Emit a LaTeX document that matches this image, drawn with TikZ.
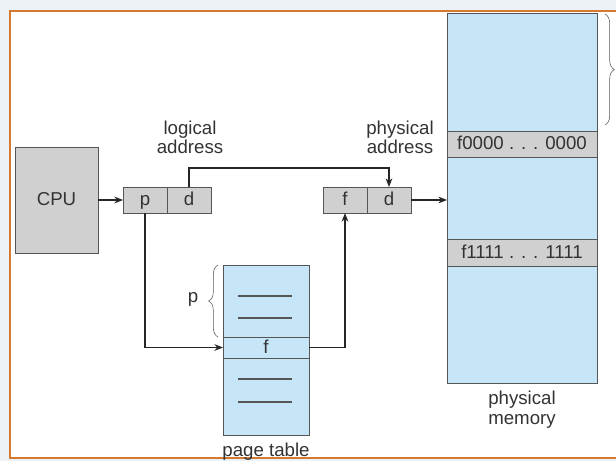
\documentclass[tikz,border=0pt]{standalone}
\usepackage{fontspec}
\setmainfont{Liberation Sans}
\usetikzlibrary{positioning, arrows.meta, decorations.pathreplacing}
\definecolor{memblue}{HTML}{C6E6F7}
\definecolor{cellgray}{HTML}{D0D0D0}
\definecolor{edgegray}{HTML}{555555}
\definecolor{framecol}{HTML}{D47A30}
\definecolor{outside}{HTML}{EDF2F7}
\definecolor{inkgray}{HTML}{333333}

\begin{document}
\begin{tikzpicture}[x=0.75pt, y=-0.75pt, >={Stealth[length=6.5pt, width=5pt]},
      font=\fontsize{14}{14.5}\selectfont, text=inkgray,
      box/.style={draw=edgegray, line width=0.7pt, inner sep=0pt, outer sep=0pt,
        minimum height=19.5pt, text height=0.86em, text depth=0pt},
      cell/.style={box, fill=cellgray, minimum width=33pt},
      mem/.style={box, fill=memblue},
      link/.style={->, line width=0.8pt, draw=black!85},
      lbl/.style={align=center, inner sep=0pt}]

    \clip (0,0) rectangle (616,461);
    \fill[outside] (0,0) rectangle (616,461);
    \draw[framecol, line width=2.2pt, fill=white] (10,11) rectangle (640,458);

    \node[box, fill=cellgray, minimum width=62.25pt, minimum height=79.5pt] (cpu) at (56.5,200) {CPU};
    \node[cell] (lp) at (145,200) {p};
    \node[cell, right=0pt of lp] (ld) {d};
    \node[cell] (pf) at (345,200) {f};
    \node[cell, right=0pt of pf] (pd) {d};

    \node[mem, minimum width=112.5pt, minimum height=277.5pt] (mem) at (522,198) {};
    \node[mem, fill=cellgray, minimum width=112.5pt] (lo) at (522,144) {f0000 . . . 0000};
    \node[mem, fill=cellgray, minimum width=112.5pt, minimum height=20.25pt] (hi) at (522,252.5) {f1111 . . . 1111};

    \node[mem, minimum width=64.5pt, minimum height=127.5pt] (ptab) at (266,350) {};
    \node[mem, minimum width=64.5pt, minimum height=15.75pt] (fent) at (266,347.5) {f};
    \foreach \y in {296,318,379,402}
      \draw[edgegray, line width=0.8pt] (238,\y) -- (292,\y);

    \node[lbl] (lognm) at (190,137) {logical\\address};
    \node[lbl] (physnm) at (400,137) {physical\\address};
    \node[lbl, below=6pt of mem] (memnm) {physical\\memory};
    \node[lbl, below=6pt of ptab] (ptnm) {page table};
    \node[lbl] (pnm) at (193,299) {p};

    % braces
    \draw[edgegray, decorate, decoration={brace, amplitude=7pt}] (605,14) -- (605,125);
    \draw[edgegray, decorate, decoration={brace, amplitude=7pt}] (218,337) -- (218,265);

    \draw[link] (cpu) -- (lp);
    \draw[link] (ld.north) -- ++(0,-19) -| (pd.north);
    \draw[link] (lp.south) |- (fent.west);
    \draw[link] (fent.east) -| (pf.south);
    \draw[link] (pd) -- (pd -| mem.west);
\end{tikzpicture}
\end{document}
